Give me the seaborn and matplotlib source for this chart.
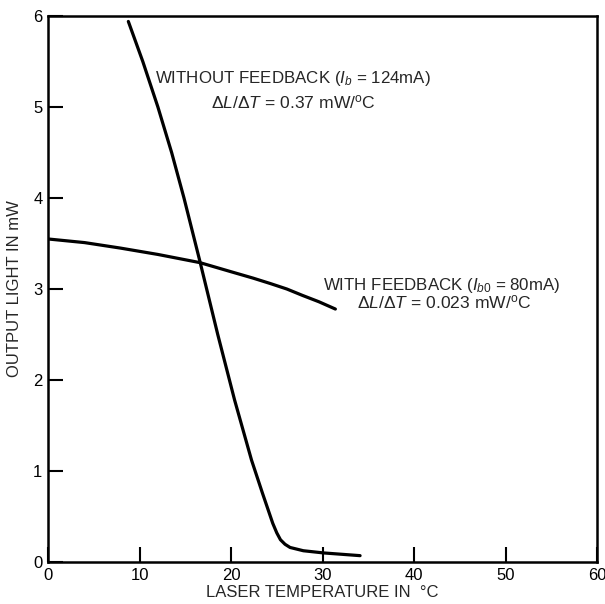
import numpy as np
import pandas as pd
import matplotlib
matplotlib.use("Agg")
import matplotlib.pyplot as plt
import seaborn as sns

# ---- data ----
temp_nofb = [8.78, 10.36, 12.01, 13.51, 14.86, 16.61, 18.55, 20.39, 22.24, 23.44,
             24.56, 25.0, 25.4, 25.9, 26.45, 27.9, 30.1, 34.1]
light_nofb = [5.94, 5.50, 5.00, 4.50, 4.00, 3.30, 2.50, 1.78, 1.12, 0.755,
              0.425, 0.32, 0.245, 0.195, 0.16, 0.124, 0.10, 0.07]

temp_fb = [0.0, 4.0, 7.9, 12.0, 16.6, 20.0, 22.4, 24.3, 26.1, 27.8, 29.6, 31.4]
light_fb = [3.55, 3.51, 3.45, 3.38, 3.29, 3.19, 3.12, 3.06, 3.00, 2.93, 2.86, 2.78]

XTICKS = [0, 10, 20, 30, 40, 50, 60]
YTICKS = [0, 1, 2, 3, 4, 5, 6]

df = pd.concat([
    pd.DataFrame({"temp": temp_nofb, "light": light_nofb, "series": "without"}),
    pd.DataFrame({"temp": temp_fb, "light": light_fb, "series": "with"}),
])

sns.set_style("ticks")
plt.rcParams['font.family'] = ['Liberation Sans', 'DejaVu Sans']
plt.rcParams['mathtext.fontset'] = 'custom'
plt.rcParams['mathtext.rm'] = 'Liberation Sans'
plt.rcParams['mathtext.it'] = 'Liberation Sans:italic'

fig = plt.figure(figsize=(6.05, 6.04), dpi=100)
ax = fig.add_axes([0.0793, 0.0695, 0.9077, 0.904])

sns.lineplot(data=df, x="temp", y="light", units="series", estimator=None,
             sort=False, color="black", linewidth=2.3, ax=ax, legend=False)
for ln in ax.lines:
    ln.set_solid_joinstyle("round")
    ln.set_solid_capstyle("round")

ax.set_xlim(0, 60)
ax.set_ylim(0, 6)
ax.set_xticks(XTICKS)
ax.set_yticks(YTICKS)
ax.tick_params(direction="in", length=11, width=1.5, labelsize=12, colors="black", pad=4)
for s in ax.spines.values():
    s.set_linewidth(1.8)
    s.set_color("black")

ax.set_xlabel("LASER TEMPERATURE IN  \u00b0C", fontsize=12, labelpad=2)
ax.set_ylabel("OUTPUT LIGHT IN mW", fontsize=12, va="center")
ax.yaxis.set_label_coords(-0.061, 0.5)

ax.text(0.446, 0.885, r"WITHOUT FEEDBACK ($I_b$ = 124mA)", transform=ax.transAxes,
        ha="center", va="center", fontsize=12.2)
ax.text(0.447, 0.842, r"$\Delta L/\Delta T$ = 0.37 mW/$^{\rm o}$C", transform=ax.transAxes,
        ha="center", va="center", fontsize=12.6)
ax.text(0.716, 0.507, r"WITH FEEDBACK ($I_{b0}$ = 80mA)", transform=ax.transAxes,
        ha="center", va="center", fontsize=12.2)
ax.text(0.721, 0.476, r"$\Delta L/\Delta T$ = 0.023 mW/$^{\rm o}$C", transform=ax.transAxes,
        ha="center", va="center", fontsize=12.6)

fig.savefig("out.png", dpi=100)
